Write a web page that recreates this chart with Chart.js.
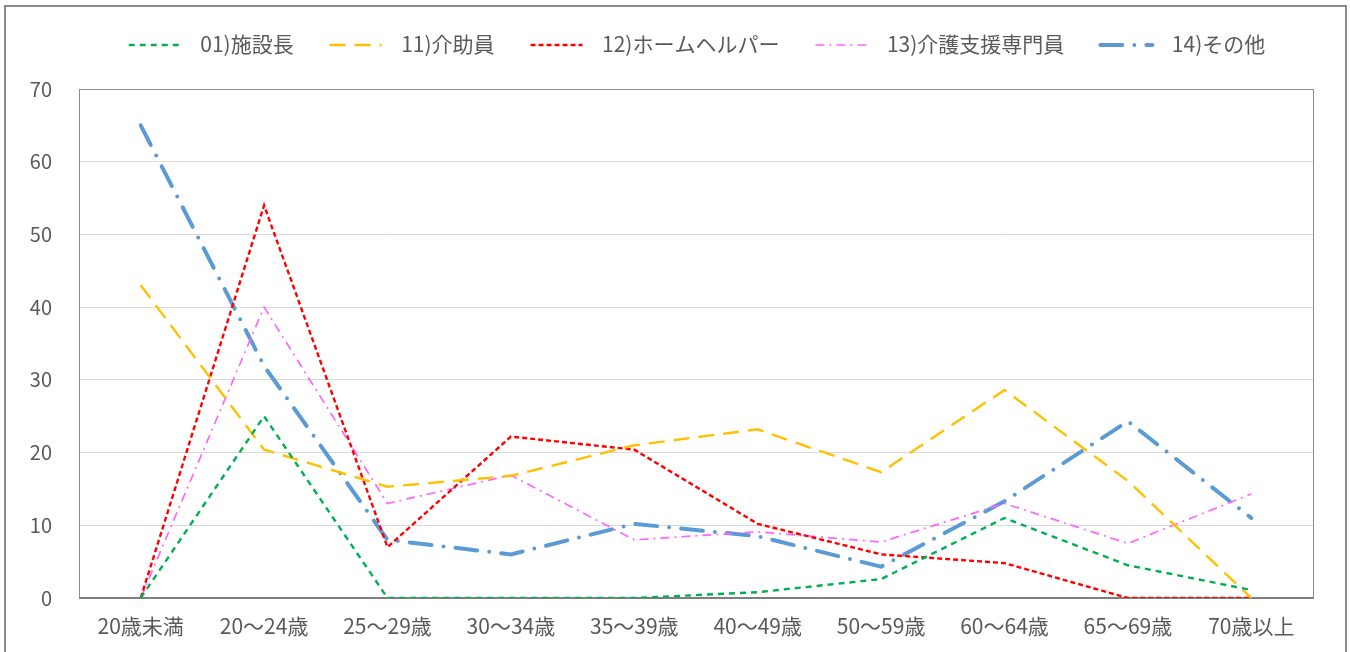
<!DOCTYPE html>
<html>
<head>
<meta charset="utf-8">
<script src="https://cdn.jsdelivr.net/npm/chart.js@4.4.1/dist/chart.umd.min.js"></script>
<style>
  html, body { margin: 0; padding: 0; background: #fff; overflow: hidden; }
  #wrap { position: relative; width: 1350px; height: 652px; }
  #frame { position: absolute; left: 4px; top: 5px; width: 1339px; height: 700px; border: 2px solid #8a8a8a; pointer-events: none; }
</style>
</head>
<body>
<div id="wrap">
  <canvas id="chart" width="1350" height="652"></canvas>
  <div id="frame"></div>
</div>
<script>
// age groups on the x axis
const categories = ['20歳未満', '20～24歳', '25～29歳', '30～34歳', '35～39歳', '40～49歳', '50～59歳', '60～64歳', '65～69歳', '70歳以上'];

// values (%)
const shisetsucho = [0, 25, 0, 0, 0, 0.8, 2.6, 11, 4.5, 1.1];
const kaijoin = [43, 20.4, 15.3, 16.8, 21, 23.2, 17.3, 28.6, 16.1, 0];
const homeHelper = [0, 54, 7, 22.2, 20.4, 10.2, 6, 4.8, 0, 0];
const careManager = [0, 40, 13, 16.9, 8, 9.1, 7.7, 13, 7.5, 14.3];
const others = [65, 31.9, 8, 6, 10.2, 8.5, 4.3, 13.3, 24.3, 11];

const yTicks = [0, 10, 20, 30, 40, 50, 60, 70];

const FONT = "'Noto Sans CJK JP', 'Noto Sans', sans-serif";
const TEXT = '#595959';

function line(label, data, color, width, dash) {
  return {
    label: label,
    data: data,
    borderColor: color,
    backgroundColor: color,
    borderWidth: width,
    borderDash: dash,
    borderCapStyle: width > 3 ? 'round' : 'butt',
    pointRadius: 0,
    pointHoverRadius: 0,
    fill: false,
    tension: 0,
  };
}

const datasets = [
  line('01)施設長', shisetsucho, '#00b050', 2.4, [6, 5]),
  line('11)介助員', kaijoin, '#ffc000', 2.4, [16, 9]),
  line('12)ホームヘルパー', homeHelper, '#ff0000', 2.4, [5, 3]),
  line('13)介護支援専門員', careManager, '#ff66ff', 1.7, [9, 5, 2, 5]),
  line('14)その他', others, '#5b9bd5', 4, [22, 12, 0, 12]),
];

// plot area box (grey border all round, bottom a bit darker)
const plotBorder = {
  id: 'plotBorder',
  beforeDatasetsDraw(chart) {
    const a = chart.chartArea;
    const ctx = chart.ctx;
    ctx.save();
    ctx.strokeStyle = '#8c8c8c';
    ctx.lineWidth = 1;
    ctx.strokeRect(a.left + 0.5, a.top + 0.5, a.right - a.left, a.bottom - a.top);
    ctx.strokeStyle = '#7f7f7f';
    ctx.lineWidth = 2;
    ctx.beginPath();
    ctx.moveTo(a.left, a.bottom);
    ctx.lineTo(a.right, a.bottom);
    ctx.stroke();
    ctx.restore();
  },
};

// dashed line samples in the legend
const SAMPLE_LEN = 52;
const legendLines = {
  id: 'legendLines',
  afterDraw(chart) {
    const legend = chart.legend;
    if (!legend || !legend.legendHitBoxes) return;
    const ctx = chart.ctx;
    legend.legendHitBoxes.forEach(function (hb, i) {
      const ds = chart.data.datasets[i];
      const y = Math.round(hb.top + hb.height / 2);
      ctx.save();
      ctx.strokeStyle = ds.borderColor;
      ctx.lineWidth = ds.borderWidth;
      ctx.lineCap = ds.borderCapStyle;
      ctx.setLineDash(ds.borderDash);
      ctx.beginPath();
      ctx.moveTo(hb.left + 2, y);
      ctx.lineTo(hb.left + 2 + SAMPLE_LEN, y);
      ctx.stroke();
      ctx.restore();
    });
  },
};

new Chart(document.getElementById('chart').getContext('2d'), {
  type: 'line',
  data: { labels: categories, datasets: datasets },
  options: {
    responsive: false,
    animation: false,
    layout: { padding: { top: 0, right: 37, bottom: 0, left: 0 } },
    plugins: {
      tooltip: { enabled: false },
      // empty title used only as a gap between legend and plot
      title: {
        display: true,
        text: '',
        weight: 100,
        font: { size: 10, lineHeight: 1 },
        padding: { top: 6, bottom: 8 },
      },
      legend: {
        display: true,
        position: 'top',
        fullSize: false,
        labels: {
          boxWidth: 63,
          boxHeight: 4,
          padding: 34,
          color: TEXT,
          font: { family: FONT, size: 21 },
          generateLabels(chart) {
            const items = Chart.defaults.plugins.legend.labels.generateLabels(chart);
            items.forEach(function (it) {
              it.fillStyle = 'rgba(0,0,0,0)';
              it.strokeStyle = 'rgba(0,0,0,0)';
              it.lineWidth = 0;
            });
            return items;
          },
        },
      },
    },
    scales: {
      x: {
        offset: true,
        grid: { display: false, drawTicks: false },
        border: { display: false },
        ticks: { color: TEXT, font: { family: FONT, size: 21 }, padding: 15, maxRotation: 0, autoSkip: false },
        afterFit(scale) { scale.height = 54; },
      },
      y: {
        min: yTicks[0],
        max: yTicks[yTicks.length - 1],
        afterBuildTicks(scale) { scale.ticks = yTicks.map(function (v) { return { value: v }; }); },
        grid: { color: '#d9d9d9', drawTicks: false },
        border: { display: false },
        ticks: { color: TEXT, font: { family: FONT, size: 20 }, padding: 27 },
        afterFit(scale) { scale.width = 79; },
      },
    },
  },
  plugins: [plotBorder, legendLines],
});
</script>
</body>
</html>
